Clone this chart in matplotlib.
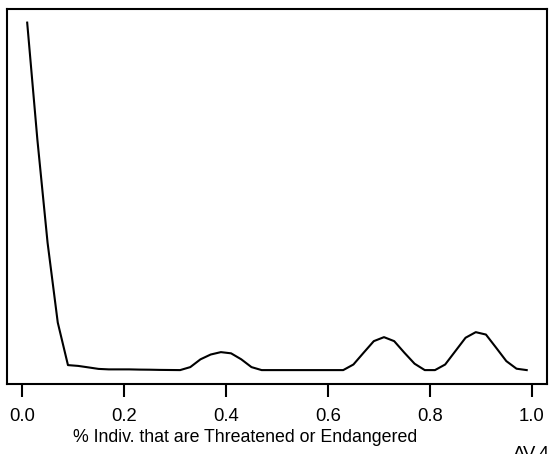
import matplotlib
matplotlib.use("Agg")
import matplotlib.pyplot as plt
import numpy as np

# proportion of individuals (bin centres)
x_vals = [0.01, 0.03, 0.05, 0.07, 0.09, 0.11, 0.13, 0.15, 0.17, 0.19,
          0.21, 0.23, 0.25, 0.27, 0.29, 0.31, 0.33, 0.35, 0.37, 0.39,
          0.41, 0.43, 0.45, 0.47, 0.49, 0.51, 0.53, 0.55, 0.57, 0.59,
          0.61, 0.63, 0.65, 0.67, 0.69, 0.71, 0.73, 0.75, 0.77, 0.79,
          0.81, 0.83, 0.85, 0.87, 0.89, 0.91, 0.93, 0.95, 0.97, 0.99]
# density estimate
density = [8.70, 5.77, 3.19, 1.19, 0.125, 0.105, 0.068, 0.030, 0.018, 0.018,
           0.018, 0.0125, 0.010, 0.005, 0.0025, 0.0, 0.075, 0.27, 0.39, 0.45,
           0.42, 0.27, 0.075, 0.0, 0.0, 0.0, 0.0, 0.0, 0.0, 0.0,
           0.0, 0.0, 0.14, 0.435, 0.725, 0.825, 0.725, 0.435, 0.16, 0.0,
           0.0, 0.14, 0.475, 0.81, 0.95, 0.89, 0.56, 0.225, 0.035, 0.0]
x_ticks = [0.0, 0.2, 0.4, 0.6, 0.8, 1.0]
x_tick_labels = ["0.0", "0.2", "0.4", "0.6", "0.8", "1.0"]
x_label = "% Indiv. that are Threatened or Endangered"
corner_text = "AV.4"

W, H = 551, 454
fig = plt.figure(figsize=(W / 100, H / 100), dpi=100)
plt.rcParams['font.family'] = ['Liberation Sans', 'DejaVu Sans']

L, R, T, B = 7.2, 546.7, 8.7, 384.0
ax = fig.add_axes([L / W, 1 - B / H, (R - L) / W, (B - T) / H])

ax.plot(x_vals, density, color='black', lw=1.5)

xr = max(x_vals) - min(x_vals)
ax.set_xlim(min(x_vals) - 0.04 * xr, max(x_vals) + 0.04 * xr)
yr = max(density) - min(density)
ax.set_ylim(min(density) - 0.04 * yr, max(density) + 0.04 * yr)

ax.set_yticks([])
ax.set_xticks(x_ticks)
ax.set_xticklabels(x_tick_labels, fontsize=13.3)
ax.tick_params(axis='x', direction='out', length=9.5, width=1.5, pad=8)
for s in ax.spines.values():
    s.set_linewidth(1.5)

fig.text(245 / W, 1 - 438 / H, x_label, fontsize=12.8, ha='center', va='center')
fig.text(513 / W, 1 - 446 / H, corner_text, fontsize=13.3, ha='left', va='top')

fig.savefig("out.png", dpi=100)
